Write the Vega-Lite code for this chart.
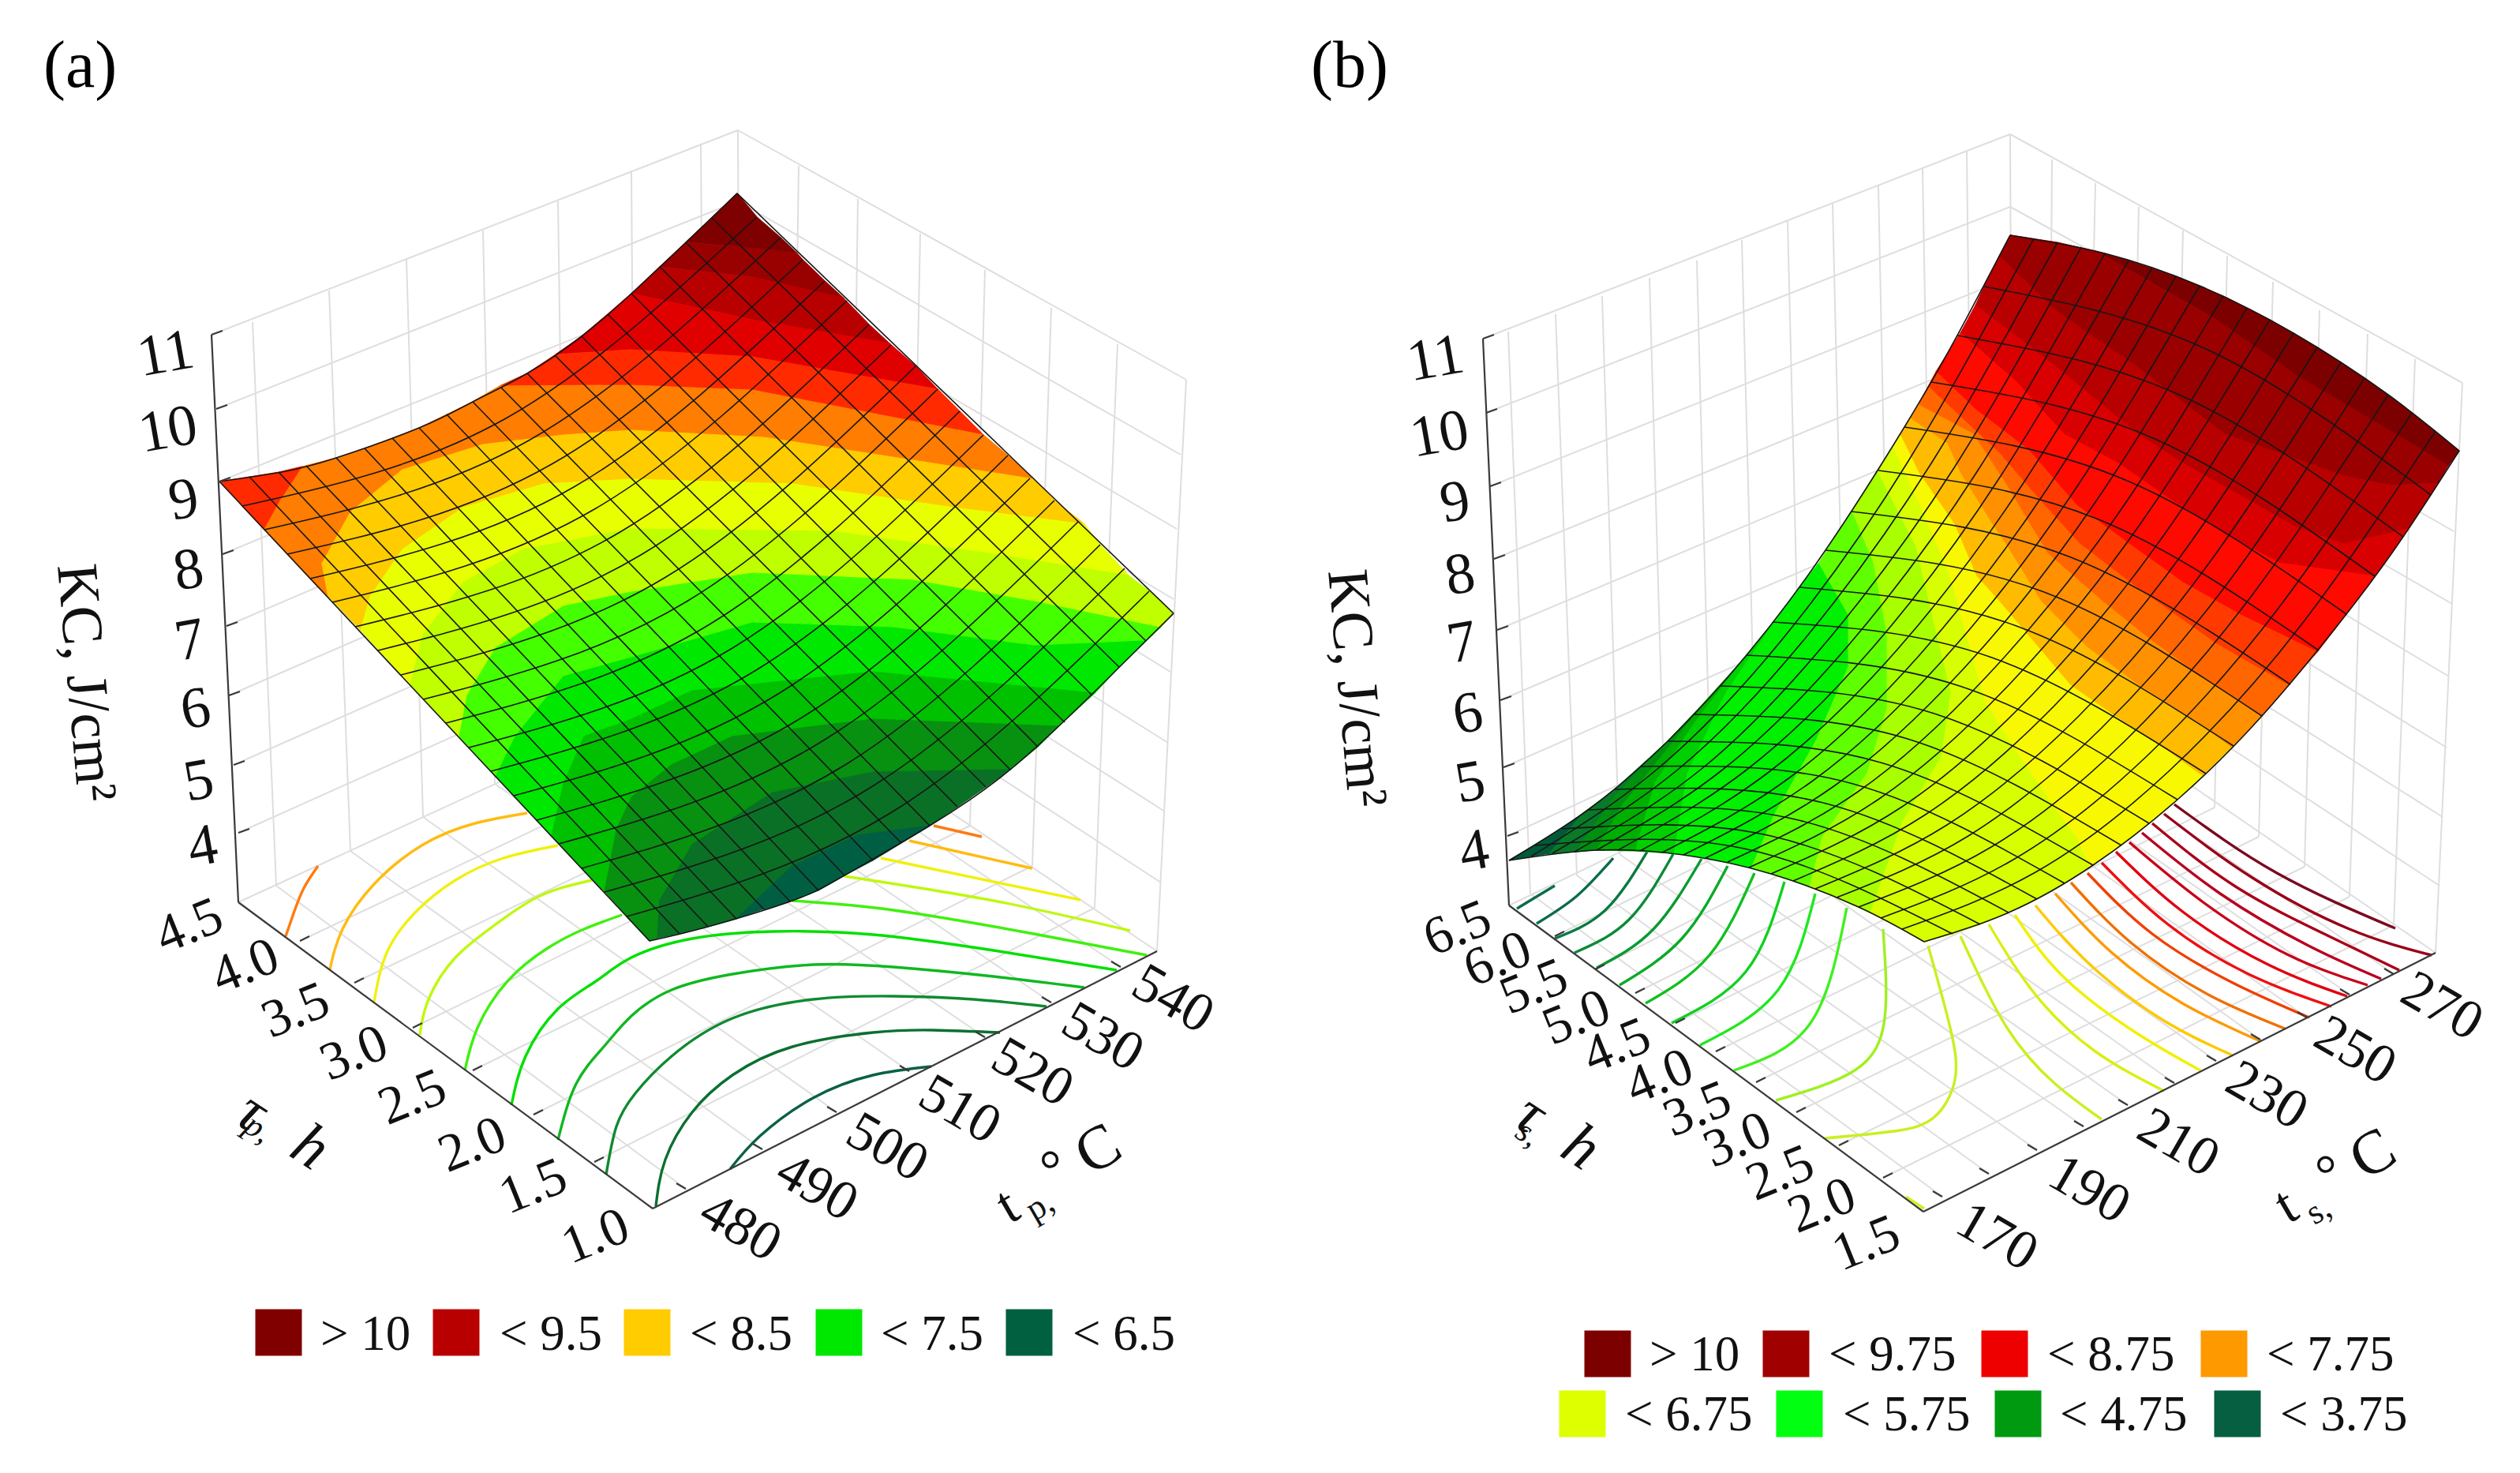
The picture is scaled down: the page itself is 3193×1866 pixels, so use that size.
{"$schema":"https://vega.github.io/schema/vega-lite/v6.json","width":3193,"height":1866,"padding":0,"autosize":{"type":"none"},"background":"#ffffff","config":{"view":{"stroke":null}},
"resolve":{"scale":{"stroke":"independent","fill":"independent"}},
"encoding":{"x":{"field":"x","type":"quantitative","scale":{"domain":[0,3193],"nice":false,"zero":false},"axis":null},"y":{"field":"y","type":"quantitative","scale":{"domain":[1866,0],"nice":false,"zero":false},"axis":null}},
"datasets":{
"walls":[
{"x":320,"y":408,"x2":350,"y2":1122},{"x":417,"y":368,"x2":444,"y2":1078},{"x":515,"y":329,"x2":536,"y2":1035},{"x":612,"y":292,"x2":627,"y2":993},{"x":707,"y":255,"x2":717,"y2":952},{"x":800,"y":217,"x2":805,"y2":912},{"x":888,"y":182,"x2":893,"y2":872},{"x":935,"y":165,"x2":938,"y2":850},
{"x":268,"y":424,"x2":935,"y2":165},{"x":274,"y":518,"x2":935,"y2":255},{"x":278,"y":610,"x2":935,"y2":345},{"x":282,"y":702,"x2":936,"y2":430},{"x":287,"y":793,"x2":936,"y2":515},{"x":290,"y":881,"x2":936,"y2":600},{"x":296,"y":969,"x2":937,"y2":685},{"x":302,"y":1055,"x2":937,"y2":770},{"x":302,"y":1143,"x2":938,"y2":850},
{"x":1012,"y":210,"x2":1002,"y2":897},{"x":1087,"y":252,"x2":1077,"y2":945},{"x":1166,"y":296,"x2":1152,"y2":994},{"x":1248,"y":342,"x2":1229,"y2":1046},{"x":1332,"y":390,"x2":1308,"y2":1097},{"x":1416,"y":436,"x2":1387,"y2":1150},{"x":1503,"y":481,"x2":1466,"y2":1205},
{"x":935,"y":165,"x2":1503,"y2":481},{"x":935,"y":255,"x2":1496,"y2":576},{"x":935,"y":345,"x2":1491,"y2":670},{"x":936,"y":430,"x2":1487,"y2":759},{"x":936,"y":515,"x2":1483,"y2":851},{"x":936,"y":600,"x2":1480,"y2":941},{"x":937,"y":685,"x2":1476,"y2":1028},{"x":937,"y":770,"x2":1471,"y2":1118},{"x":938,"y":850,"x2":1466,"y2":1205},
{"x":350,"y":1122,"x2":869,"y2":1506},{"x":444,"y":1078,"x2":966,"y2":1456},{"x":536,"y":1035,"x2":1060,"y2":1409},{"x":627,"y":993,"x2":1152,"y2":1357},{"x":717,"y":952,"x2":1248,"y2":1314},{"x":805,"y":912,"x2":1332,"y2":1270},{"x":893,"y":872,"x2":1420,"y2":1225},
{"x":380,"y":1192,"x2":1002,"y2":897},{"x":449,"y":1245,"x2":1077,"y2":945},{"x":523,"y":1302,"x2":1152,"y2":994},{"x":599,"y":1356,"x2":1229,"y2":1046},{"x":676,"y":1412,"x2":1308,"y2":1097},{"x":753,"y":1472,"x2":1387,"y2":1150},
{"x":1911,"y":420,"x2":1939,"y2":1132},{"x":1971,"y":398,"x2":1998,"y2":1109},{"x":2030,"y":375,"x2":2052,"y2":1082},{"x":2090,"y":352,"x2":2110,"y2":1054},{"x":2150,"y":330,"x2":2168,"y2":1026},{"x":2207,"y":304,"x2":2225,"y2":998},{"x":2265,"y":280,"x2":2282,"y2":970},{"x":2322,"y":257,"x2":2338,"y2":942},{"x":2380,"y":235,"x2":2394,"y2":915},{"x":2436,"y":214,"x2":2448,"y2":889},{"x":2492,"y":192,"x2":2500,"y2":864},{"x":2547,"y":170,"x2":2550,"y2":840},
{"x":1879,"y":429,"x2":2547,"y2":170},{"x":1883,"y":523,"x2":2547,"y2":262},{"x":1888,"y":616,"x2":2547,"y2":352},{"x":1893,"y":708,"x2":2548,"y2":440},{"x":1897,"y":798,"x2":2548,"y2":525},{"x":1901,"y":887,"x2":2548,"y2":610},{"x":1905,"y":972,"x2":2549,"y2":690},{"x":1910,"y":1059,"x2":2549,"y2":765},{"x":1912,"y":1147,"x2":2550,"y2":840},
{"x":2600,"y":202,"x2":2595,"y2":880},{"x":2655,"y":232,"x2":2640,"y2":912},{"x":2710,"y":262,"x2":2695,"y2":949},{"x":2766,"y":292,"x2":2750,"y2":985},{"x":2822,"y":324,"x2":2806,"y2":1023},{"x":2880,"y":357,"x2":2862,"y2":1060},{"x":2939,"y":393,"x2":2920,"y2":1098},{"x":3000,"y":423,"x2":2977,"y2":1136},{"x":3060,"y":455,"x2":3033,"y2":1172},{"x":3120,"y":485,"x2":3086,"y2":1207},
{"x":2547,"y":170,"x2":3120,"y2":485},{"x":2547,"y":262,"x2":3115,"y2":575},{"x":2547,"y":352,"x2":3109,"y2":673},{"x":2548,"y":440,"x2":3107,"y2":765},{"x":2548,"y":525,"x2":3103,"y2":857},{"x":2548,"y":610,"x2":3100,"y2":947},{"x":2549,"y":690,"x2":3095,"y2":1035},{"x":2549,"y":765,"x2":3091,"y2":1122},{"x":2550,"y":840,"x2":3086,"y2":1207},
{"x":1939,"y":1132,"x2":2461,"y2":1516},{"x":1998,"y":1109,"x2":2520,"y2":1487},{"x":2052,"y":1082,"x2":2581,"y2":1457},{"x":2110,"y":1054,"x2":2640,"y2":1427},{"x":2168,"y":1026,"x2":2696,"y2":1400},{"x":2225,"y":998,"x2":2755,"y2":1372},{"x":2282,"y":970,"x2":2808,"y2":1344},{"x":2338,"y":942,"x2":2864,"y2":1317},{"x":2394,"y":915,"x2":2923,"y2":1289},{"x":2448,"y":889,"x2":2977,"y2":1260},{"x":2500,"y":864,"x2":3033,"y2":1234},
{"x":1970,"y":1186,"x2":2595,"y2":880},{"x":2021,"y":1228,"x2":2640,"y2":912},{"x":2072,"y":1258,"x2":2695,"y2":949},{"x":2123,"y":1296,"x2":2750,"y2":985},{"x":2174,"y":1332,"x2":2806,"y2":1023},{"x":2225,"y":1371,"x2":2862,"y2":1060},{"x":2276,"y":1409,"x2":2920,"y2":1098},{"x":2330,"y":1451,"x2":2977,"y2":1136},{"x":2386,"y":1492,"x2":3033,"y2":1172}
],
"axes":[
{"x":268,"y":424,"x2":302,"y2":1143},{"x":302,"y":1143,"x2":827,"y2":1531},{"x":827,"y":1531,"x2":1466,"y2":1205},
{"x":268,"y":424,"x2":282,"y2":419},{"x":274,"y":518,"x2":288,"y2":513},{"x":278,"y":610,"x2":292,"y2":605},{"x":282,"y":702,"x2":296,"y2":697},{"x":287,"y":793,"x2":301,"y2":788},{"x":290,"y":881,"x2":304,"y2":876},{"x":296,"y":969,"x2":310,"y2":964},{"x":302,"y":1055,"x2":316,"y2":1050},
{"x":380,"y":1192,"x2":392,"y2":1186},{"x":449,"y":1245,"x2":461,"y2":1239},{"x":523,"y":1302,"x2":535,"y2":1296},{"x":599,"y":1356,"x2":611,"y2":1350},{"x":676,"y":1412,"x2":688,"y2":1406},{"x":753,"y":1472,"x2":765,"y2":1466},
{"x":869,"y":1506,"x2":857,"y2":1499},{"x":966,"y":1456,"x2":954,"y2":1449},{"x":1060,"y":1409,"x2":1048,"y2":1402},{"x":1152,"y":1357,"x2":1140,"y2":1350},{"x":1248,"y":1314,"x2":1236,"y2":1307},{"x":1332,"y":1270,"x2":1320,"y2":1263},{"x":1420,"y":1225,"x2":1408,"y2":1218},
{"x":1879,"y":429,"x2":1912,"y2":1147},{"x":1912,"y":1147,"x2":2437,"y2":1535},{"x":2437,"y":1535,"x2":3086,"y2":1207},
{"x":1879,"y":429,"x2":1893,"y2":424},{"x":1883,"y":523,"x2":1897,"y2":518},{"x":1888,"y":616,"x2":1902,"y2":611},{"x":1893,"y":708,"x2":1907,"y2":703},{"x":1897,"y":798,"x2":1911,"y2":793},{"x":1901,"y":887,"x2":1915,"y2":882},{"x":1905,"y":972,"x2":1919,"y2":967},{"x":1910,"y":1059,"x2":1924,"y2":1054},
{"x":1970,"y":1186,"x2":1982,"y2":1180},{"x":2021,"y":1228,"x2":2033,"y2":1222},{"x":2072,"y":1258,"x2":2084,"y2":1252},{"x":2123,"y":1296,"x2":2135,"y2":1290},{"x":2174,"y":1332,"x2":2186,"y2":1326},{"x":2225,"y":1371,"x2":2237,"y2":1365},{"x":2276,"y":1409,"x2":2288,"y2":1403},{"x":2330,"y":1451,"x2":2342,"y2":1445},{"x":2386,"y":1492,"x2":2398,"y2":1486},
{"x":2461,"y":1516,"x2":2449,"y2":1509},{"x":2520,"y":1487,"x2":2508,"y2":1480},{"x":2581,"y":1457,"x2":2569,"y2":1450},{"x":2640,"y":1427,"x2":2628,"y2":1420},{"x":2696,"y":1400,"x2":2684,"y2":1393},{"x":2755,"y":1372,"x2":2743,"y2":1365},{"x":2808,"y":1344,"x2":2796,"y2":1337},{"x":2864,"y":1317,"x2":2852,"y2":1310},{"x":2923,"y":1289,"x2":2911,"y2":1282},{"x":2977,"y":1260,"x2":2965,"y2":1253},{"x":3033,"y":1234,"x2":3021,"y2":1227}
],
"contours":[
{"id":"ca1","x":362,"y":1186},{"id":"ca1","x":372,"y":1157},{"id":"ca1","x":385,"y":1125},{"id":"ca1","x":403,"y":1097},
{"id":"ca1b","x":1183,"y":1046},{"id":"ca1b","x":1244,"y":1060},
{"id":"ca2","x":418,"y":1228},{"id":"ca2","x":434,"y":1177},{"id":"ca2","x":474,"y":1120},{"id":"ca2","x":536,"y":1070},{"id":"ca2","x":602,"y":1043},{"id":"ca2","x":668,"y":1030},
{"id":"ca2b","x":1152,"y":1065},{"id":"ca2b","x":1308,"y":1100},
{"id":"ca3","x":474,"y":1269},{"id":"ca3","x":490,"y":1207},{"id":"ca3","x":526,"y":1156},{"id":"ca3","x":577,"y":1115},{"id":"ca3","x":638,"y":1087},{"id":"ca3","x":707,"y":1071},
{"id":"ca3b","x":1116,"y":1087},{"id":"ca3b","x":1369,"y":1140},
{"id":"ca4","x":532,"y":1311},{"id":"ca4","x":543,"y":1266},{"id":"ca4","x":577,"y":1213},{"id":"ca4","x":628,"y":1171},{"id":"ca4","x":684,"y":1135},{"id":"ca4","x":750,"y":1115},
{"id":"ca4b","x":1070,"y":1110},{"id":"ca4b","x":1259,"y":1141},{"id":"ca4b","x":1432,"y":1179},
{"id":"ca5","x":589,"y":1356},{"id":"ca5","x":605,"y":1302},{"id":"ca5","x":643,"y":1243},{"id":"ca5","x":694,"y":1201},{"id":"ca5","x":740,"y":1177},{"id":"ca5","x":788,"y":1159},
{"id":"ca5b","x":1004,"y":1141},{"id":"ca5b","x":1132,"y":1153},{"id":"ca5b","x":1310,"y":1183},{"id":"ca5b","x":1453,"y":1210},
{"id":"ca6","x":648,"y":1400},{"id":"ca6","x":666,"y":1338},{"id":"ca6","x":707,"y":1278},{"id":"ca6","x":755,"y":1243},{"id":"ca6","x":800,"y":1213},{"id":"ca6","x":877,"y":1189},{"id":"ca6","x":979,"y":1180},{"id":"ca6","x":1106,"y":1184},{"id":"ca6","x":1259,"y":1204},{"id":"ca6","x":1415,"y":1229},
{"id":"ca7","x":707,"y":1444},{"id":"ca7","x":730,"y":1373},{"id":"ca7","x":765,"y":1326},{"id":"ca7","x":800,"y":1287},{"id":"ca7","x":851,"y":1254},{"id":"ca7","x":928,"y":1234},{"id":"ca7","x":1030,"y":1222},{"id":"ca7","x":1132,"y":1225},{"id":"ca7","x":1259,"y":1237},{"id":"ca7","x":1374,"y":1251},
{"id":"ca8","x":768,"y":1488},{"id":"ca8","x":781,"y":1427},{"id":"ca8","x":805,"y":1385},{"id":"ca8","x":851,"y":1338},{"id":"ca8","x":928,"y":1290},{"id":"ca8","x":1030,"y":1266},{"id":"ca8","x":1132,"y":1262},{"id":"ca8","x":1234,"y":1266},{"id":"ca8","x":1326,"y":1275},
{"id":"ca9","x":831,"y":1528},{"id":"ca9","x":843,"y":1469},{"id":"ca9","x":877,"y":1409},{"id":"ca9","x":928,"y":1362},{"id":"ca9","x":1004,"y":1326},{"id":"ca9","x":1106,"y":1308},{"id":"ca9","x":1183,"y":1305},{"id":"ca9","x":1267,"y":1308},
{"id":"ca10","x":925,"y":1481},{"id":"ca10","x":963,"y":1439},{"id":"ca10","x":1030,"y":1391},{"id":"ca10","x":1106,"y":1362},{"id":"ca10","x":1180,"y":1351},
{"id":"g1","x":1922,"y":1151},{"id":"g1","x":1945,"y":1137},{"id":"g1","x":1970,"y":1122},
{"id":"g2","x":1947,"y":1170},{"id":"g2","x":1998,"y":1135},{"id":"g2","x":2044,"y":1087},
{"id":"g3","x":1970,"y":1189},{"id":"g3","x":2034,"y":1153},{"id":"g3","x":2087,"y":1079},
{"id":"g4","x":1995,"y":1207},{"id":"g4","x":2064,"y":1165},{"id":"g4","x":2120,"y":1082},
{"id":"g5","x":2023,"y":1226},{"id":"g5","x":2095,"y":1177},{"id":"g5","x":2156,"y":1088},
{"id":"g6","x":2052,"y":1248},{"id":"g6","x":2131,"y":1189},{"id":"g6","x":2189,"y":1097},
{"id":"g7","x":2085,"y":1271},{"id":"g7","x":2166,"y":1210},{"id":"g7","x":2223,"y":1106},
{"id":"g8","x":2118,"y":1296},{"id":"g8","x":2212,"y":1231},{"id":"g8","x":2261,"y":1117},
{"id":"g9","x":2154,"y":1324},{"id":"g9","x":2253,"y":1254},{"id":"g9","x":2300,"y":1132},
{"id":"g10","x":2197,"y":1356},{"id":"g10","x":2294,"y":1296},{"id":"g10","x":2340,"y":1150},
{"id":"g11","x":2250,"y":1394},{"id":"g11","x":2350,"y":1356},{"id":"g11","x":2388,"y":1290},{"id":"g11","x":2386,"y":1177},
{"id":"g12","x":2312,"y":1442},{"id":"g12","x":2400,"y":1433},{"id":"g12","x":2451,"y":1415},{"id":"g12","x":2477,"y":1368},{"id":"g12","x":2471,"y":1302},{"id":"g12","x":2443,"y":1198},
{"id":"g13","x":2415,"y":1516},{"id":"g13","x":2438,"y":1531},
{"id":"r1","x":2484,"y":1186},{"id":"r1","x":2543,"y":1302},{"id":"r1","x":2604,"y":1373},{"id":"r1","x":2663,"y":1418},
{"id":"r2","x":2520,"y":1171},{"id":"r2","x":2579,"y":1260},{"id":"r2","x":2655,"y":1332},{"id":"r2","x":2742,"y":1382},
{"id":"r3","x":2553,"y":1159},{"id":"r3","x":2614,"y":1237},{"id":"r3","x":2706,"y":1308},{"id":"r3","x":2788,"y":1356},
{"id":"r4","x":2579,"y":1147},{"id":"r4","x":2645,"y":1219},{"id":"r4","x":2737,"y":1290},{"id":"r4","x":2829,"y":1337},
{"id":"r5","x":2604,"y":1132},{"id":"r5","x":2676,"y":1207},{"id":"r5","x":2767,"y":1272},{"id":"r5","x":2864,"y":1319},
{"id":"r6","x":2624,"y":1118},{"id":"r6","x":2701,"y":1195},{"id":"r6","x":2798,"y":1260},{"id":"r6","x":2895,"y":1303},
{"id":"r7","x":2645,"y":1106},{"id":"r7","x":2727,"y":1183},{"id":"r7","x":2829,"y":1245},{"id":"r7","x":2926,"y":1289},
{"id":"r8","x":2663,"y":1093},{"id":"r8","x":2747,"y":1171},{"id":"r8","x":2849,"y":1234},{"id":"r8","x":2954,"y":1275},
{"id":"r9","x":2681,"y":1079},{"id":"r9","x":2767,"y":1156},{"id":"r9","x":2874,"y":1222},{"id":"r9","x":2974,"y":1262},
{"id":"r10","x":2698,"y":1067},{"id":"r10","x":2793,"y":1144},{"id":"r10","x":2900,"y":1210},{"id":"r10","x":3000,"y":1248},
{"id":"r11","x":2714,"y":1055},{"id":"r11","x":2813,"y":1132},{"id":"r11","x":2925,"y":1198},{"id":"r11","x":3017,"y":1240},
{"id":"r12","x":2727,"y":1043},{"id":"r12","x":2834,"y":1124},{"id":"r12","x":2951,"y":1186},{"id":"r12","x":3040,"y":1229},
{"id":"r13","x":2742,"y":1031},{"id":"r13","x":2854,"y":1112},{"id":"r13","x":2977,"y":1177},{"id":"r13","x":3081,"y":1210},
{"id":"r14","x":2755,"y":1019},{"id":"r14","x":2885,"y":1106},{"id":"r14","x":3035,"y":1176}
],
"bands":[
{"id":"a14","x":869,"y":307},{"id":"a14","x":902,"y":276},{"id":"a14","x":934,"y":245},{"id":"a14","x":959,"y":275},{"id":"a14","x":989,"y":301},{"id":"a14","x":1009,"y":320},{"id":"a14","x":940,"y":313},
{"id":"a13","x":836,"y":338},{"id":"a13","x":869,"y":307},{"id":"a13","x":940,"y":313},{"id":"a13","x":1009,"y":320},{"id":"a13","x":1017,"y":329},{"id":"a13","x":1045,"y":356},{"id":"a13","x":1068,"y":377},{"id":"a13","x":953,"y":351},
{"id":"a12","x":800,"y":372},{"id":"a12","x":836,"y":338},{"id":"a12","x":953,"y":351},{"id":"a12","x":1068,"y":377},{"id":"a12","x":1101,"y":411},{"id":"a12","x":1127,"y":435},{"id":"a12","x":953,"y":405},
{"id":"a11","x":704,"y":449},{"id":"a11","x":737,"y":426},{"id":"a11","x":770,"y":398},{"id":"a11","x":800,"y":372},{"id":"a11","x":953,"y":405},{"id":"a11","x":1127,"y":435},{"id":"a11","x":1160,"y":464},{"id":"a11","x":1188,"y":493},{"id":"a11","x":953,"y":452},{"id":"a11","x":800,"y":443},
{"id":"a10","x":633,"y":489},{"id":"a10","x":668,"y":473},{"id":"a10","x":704,"y":449},{"id":"a10","x":800,"y":443},{"id":"a10","x":953,"y":452},{"id":"a10","x":1188,"y":493},{"id":"a10","x":1216,"y":521},{"id":"a10","x":1246,"y":551},{"id":"a10","x":953,"y":494},{"id":"a10","x":800,"y":488},
{"id":"ax","x":278,"y":610},{"id":"ax","x":316,"y":604},{"id":"ax","x":353,"y":598},{"id":"ax","x":383,"y":591},{"id":"ax","x":357,"y":631},{"id":"ax","x":335,"y":671},{"id":"ax","x":307,"y":641},
{"id":"a9","x":383,"y":591},{"id":"a9","x":426,"y":580},{"id":"a9","x":462,"y":568},{"id":"a9","x":497,"y":555},{"id":"a9","x":531,"y":542},{"id":"a9","x":566,"y":525},{"id":"a9","x":599,"y":509},{"id":"a9","x":633,"y":489},{"id":"a9","x":800,"y":488},{"id":"a9","x":953,"y":494},{"id":"a9","x":1246,"y":551},{"id":"a9","x":1277,"y":577},{"id":"a9","x":1310,"y":607},{"id":"a9","x":1157,"y":583},{"id":"a9","x":968,"y":554},{"id":"a9","x":800,"y":545},{"id":"a9","x":714,"y":551},{"id":"a9","x":612,"y":563},{"id":"a9","x":510,"y":595},{"id":"a9","x":444,"y":649},{"id":"a9","x":408,"y":714},{"id":"a9","x":416,"y":756},{"id":"a9","x":393,"y":733},{"id":"a9","x":364,"y":702},{"id":"a9","x":335,"y":671},{"id":"a9","x":357,"y":631},
{"id":"a8","x":416,"y":756},{"id":"a8","x":408,"y":714},{"id":"a8","x":444,"y":649},{"id":"a8","x":510,"y":595},{"id":"a8","x":612,"y":563},{"id":"a8","x":714,"y":551},{"id":"a8","x":800,"y":545},{"id":"a8","x":968,"y":554},{"id":"a8","x":1157,"y":583},{"id":"a8","x":1310,"y":607},{"id":"a8","x":1336,"y":634},{"id":"a8","x":1374,"y":664},{"id":"a8","x":1208,"y":643},{"id":"a8","x":1004,"y":613},{"id":"a8","x":800,"y":607},{"id":"a8","x":689,"y":613},{"id":"a8","x":587,"y":643},{"id":"a8","x":510,"y":696},{"id":"a8","x":469,"y":756},{"id":"a8","x":457,"y":799},
{"id":"a7","x":457,"y":799},{"id":"a7","x":469,"y":756},{"id":"a7","x":510,"y":696},{"id":"a7","x":587,"y":643},{"id":"a7","x":689,"y":613},{"id":"a7","x":800,"y":607},{"id":"a7","x":1004,"y":613},{"id":"a7","x":1208,"y":643},{"id":"a7","x":1374,"y":664},{"id":"a7","x":1394,"y":690},{"id":"a7","x":1430,"y":729},{"id":"a7","x":1259,"y":702},{"id":"a7","x":1055,"y":673},{"id":"a7","x":800,"y":670},{"id":"a7","x":663,"y":696},{"id":"a7","x":587,"y":738},{"id":"a7","x":536,"y":804},{"id":"a7","x":520,"y":868},
{"id":"a6","x":520,"y":868},{"id":"a6","x":536,"y":804},{"id":"a6","x":587,"y":738},{"id":"a6","x":663,"y":696},{"id":"a6","x":800,"y":670},{"id":"a6","x":1055,"y":673},{"id":"a6","x":1259,"y":702},{"id":"a6","x":1430,"y":729},{"id":"a6","x":1456,"y":749},{"id":"a6","x":1487,"y":777},{"id":"a6","x":1470,"y":795},{"id":"a6","x":1310,"y":762},{"id":"a6","x":1157,"y":735},{"id":"a6","x":953,"y":726},{"id":"a6","x":800,"y":750},{"id":"a6","x":714,"y":768},{"id":"a6","x":628,"y":821},{"id":"a6","x":592,"y":881},{"id":"a6","x":582,"y":934},
{"id":"a5","x":582,"y":934},{"id":"a5","x":592,"y":881},{"id":"a5","x":628,"y":821},{"id":"a5","x":714,"y":768},{"id":"a5","x":800,"y":750},{"id":"a5","x":953,"y":726},{"id":"a5","x":1157,"y":735},{"id":"a5","x":1310,"y":762},{"id":"a5","x":1470,"y":795},{"id":"a5","x":1452,"y":812},{"id":"a5","x":1310,"y":818},{"id":"a5","x":1132,"y":795},{"id":"a5","x":953,"y":789},{"id":"a5","x":800,"y":833},{"id":"a5","x":714,"y":857},{"id":"a5","x":653,"y":933},{"id":"a5","x":628,"y":984},
{"id":"a4","x":628,"y":984},{"id":"a4","x":653,"y":933},{"id":"a4","x":714,"y":857},{"id":"a4","x":800,"y":833},{"id":"a4","x":953,"y":789},{"id":"a4","x":1132,"y":795},{"id":"a4","x":1310,"y":818},{"id":"a4","x":1452,"y":812},{"id":"a4","x":1418,"y":845},{"id":"a4","x":1387,"y":878},{"id":"a4","x":1106,"y":851},{"id":"a4","x":877,"y":875},{"id":"a4","x":800,"y":911},{"id":"a4","x":740,"y":933},{"id":"a4","x":714,"y":993},{"id":"a4","x":699,"y":1059},{"id":"a4","x":651,"y":1008},
{"id":"a3","x":699,"y":1059},{"id":"a3","x":714,"y":993},{"id":"a3","x":740,"y":933},{"id":"a3","x":800,"y":911},{"id":"a3","x":877,"y":875},{"id":"a3","x":1106,"y":851},{"id":"a3","x":1387,"y":878},{"id":"a3","x":1341,"y":920},{"id":"a3","x":1106,"y":911},{"id":"a3","x":928,"y":933},{"id":"a3","x":851,"y":969},{"id":"a3","x":800,"y":1010},{"id":"a3","x":781,"y":1052},{"id":"a3","x":766,"y":1130},
{"id":"a2","x":766,"y":1130},{"id":"a2","x":781,"y":1052},{"id":"a2","x":800,"y":1010},{"id":"a2","x":851,"y":969},{"id":"a2","x":928,"y":933},{"id":"a2","x":1106,"y":911},{"id":"a2","x":1341,"y":920},{"id":"a2","x":1315,"y":946},{"id":"a2","x":1280,"y":975},{"id":"a2","x":1106,"y":978},{"id":"a2","x":979,"y":1004},{"id":"a2","x":877,"y":1070},{"id":"a2","x":836,"y":1141},{"id":"a2","x":833,"y":1189},{"id":"a2","x":823,"y":1192},{"id":"a2","x":794,"y":1161},
{"id":"a1","x":833,"y":1189},{"id":"a1","x":836,"y":1141},{"id":"a1","x":877,"y":1070},{"id":"a1","x":979,"y":1004},{"id":"a1","x":1106,"y":978},{"id":"a1","x":1280,"y":975},{"id":"a1","x":1249,"y":997},{"id":"a1","x":1213,"y":1022},{"id":"a1","x":1178,"y":1046},{"id":"a1","x":1086,"y":1058},{"id":"a1","x":1004,"y":1097},{"id":"a1","x":933,"y":1164},{"id":"a1","x":897,"y":1174},{"id":"a1","x":861,"y":1183},
{"id":"a0","x":933,"y":1164},{"id":"a0","x":1004,"y":1097},{"id":"a0","x":1086,"y":1058},{"id":"a0","x":1178,"y":1046},{"id":"a0","x":1142,"y":1068},{"id":"a0","x":1106,"y":1090},{"id":"a0","x":1070,"y":1109},{"id":"a0","x":1037,"y":1128},{"id":"a0","x":1001,"y":1142},{"id":"a0","x":968,"y":1152},
{"id":"b18","x":2655,"y":318},{"id":"b18","x":2697,"y":330},{"id":"b18","x":2757,"y":350},{"id":"b18","x":2817,"y":375},{"id":"b18","x":2876,"y":405},{"id":"b18","x":2936,"y":440},{"id":"b18","x":2996,"y":479},{"id":"b18","x":3056,"y":523},{"id":"b18","x":3116,"y":571},{"id":"b18","x":3102,"y":590},{"id":"b18","x":3012,"y":536},{"id":"b18","x":2910,"y":476},{"id":"b18","x":2808,"y":405},
{"id":"b17","x":2533,"y":325},{"id":"b17","x":2547,"y":298},{"id":"b17","x":2607,"y":307},{"id":"b17","x":2655,"y":318},{"id":"b17","x":2808,"y":405},{"id":"b17","x":2910,"y":476},{"id":"b17","x":3012,"y":536},{"id":"b17","x":3102,"y":590},{"id":"b17","x":3089,"y":612},{"id":"b17","x":3031,"y":615},{"id":"b17","x":2970,"y":603},{"id":"b17","x":2888,"y":574},{"id":"b17","x":2819,"y":550},{"id":"b17","x":2706,"y":464},{"id":"b17","x":2604,"y":393},
{"id":"b16","x":2503,"y":387},{"id":"b16","x":2514,"y":363},{"id":"b16","x":2533,"y":325},{"id":"b16","x":2604,"y":393},{"id":"b16","x":2706,"y":464},{"id":"b16","x":2819,"y":550},{"id":"b16","x":2888,"y":574},{"id":"b16","x":2970,"y":603},{"id":"b16","x":3031,"y":615},{"id":"b16","x":3089,"y":612},{"id":"b16","x":3080,"y":627},{"id":"b16","x":3051,"y":670},{"id":"b16","x":2970,"y":689},{"id":"b16","x":2909,"y":668},{"id":"b16","x":2839,"y":628},{"id":"b16","x":2766,"y":587},{"id":"b16","x":2709,"y":550},{"id":"b16","x":2604,"y":464},
{"id":"b15","x":2484,"y":422},{"id":"b15","x":2503,"y":387},{"id":"b15","x":2604,"y":464},{"id":"b15","x":2709,"y":550},{"id":"b15","x":2766,"y":587},{"id":"b15","x":2839,"y":628},{"id":"b15","x":2909,"y":668},{"id":"b15","x":2970,"y":689},{"id":"b15","x":3051,"y":670},{"id":"b15","x":3009,"y":730},{"id":"b15","x":2888,"y":713},{"id":"b15","x":2819,"y":677},{"id":"b15","x":2749,"y":632},{"id":"b15","x":2684,"y":587},{"id":"b15","x":2615,"y":550},{"id":"b15","x":2553,"y":482},
{"id":"b14","x":2453,"y":471},{"id":"b14","x":2484,"y":422},{"id":"b14","x":2553,"y":482},{"id":"b14","x":2615,"y":550},{"id":"b14","x":2684,"y":587},{"id":"b14","x":2749,"y":632},{"id":"b14","x":2819,"y":677},{"id":"b14","x":2888,"y":713},{"id":"b14","x":3009,"y":730},{"id":"b14","x":2973,"y":778},{"id":"b14","x":2936,"y":826},{"id":"b14","x":2839,"y":779},{"id":"b14","x":2766,"y":738},{"id":"b14","x":2692,"y":685},{"id":"b14","x":2631,"y":640},{"id":"b14","x":2570,"y":570},{"id":"b14","x":2502,"y":518},
{"id":"b13","x":2443,"y":490},{"id":"b13","x":2453,"y":471},{"id":"b13","x":2502,"y":518},{"id":"b13","x":2570,"y":570},{"id":"b13","x":2631,"y":640},{"id":"b13","x":2692,"y":685},{"id":"b13","x":2766,"y":738},{"id":"b13","x":2839,"y":779},{"id":"b13","x":2936,"y":826},{"id":"b13","x":2899,"y":868},{"id":"b13","x":2807,"y":815},{"id":"b13","x":2704,"y":742},{"id":"b13","x":2635,"y":689},{"id":"b13","x":2590,"y":640},{"id":"b13","x":2533,"y":574},
{"id":"b12","x":2431,"y":513},{"id":"b12","x":2443,"y":490},{"id":"b12","x":2533,"y":574},{"id":"b12","x":2590,"y":640},{"id":"b12","x":2635,"y":689},{"id":"b12","x":2704,"y":742},{"id":"b12","x":2807,"y":815},{"id":"b12","x":2899,"y":868},{"id":"b12","x":2866,"y":907},{"id":"b12","x":2798,"y":864},{"id":"b12","x":2725,"y":811},{"id":"b12","x":2664,"y":762},{"id":"b12","x":2594,"y":701},{"id":"b12","x":2540,"y":611},{"id":"b12","x":2500,"y":550},
{"id":"b11","x":2420,"y":530},{"id":"b11","x":2431,"y":513},{"id":"b11","x":2500,"y":550},{"id":"b11","x":2540,"y":611},{"id":"b11","x":2594,"y":701},{"id":"b11","x":2664,"y":762},{"id":"b11","x":2725,"y":811},{"id":"b11","x":2798,"y":864},{"id":"b11","x":2866,"y":907},{"id":"b11","x":2827,"y":947},{"id":"b11","x":2774,"y":909},{"id":"b11","x":2709,"y":868},{"id":"b11","x":2643,"y":819},{"id":"b11","x":2586,"y":762},{"id":"b11","x":2541,"y":689},{"id":"b11","x":2524,"y":664},{"id":"b11","x":2484,"y":600},{"id":"b11","x":2467,"y":562},
{"id":"b10","x":2408,"y":552},{"id":"b10","x":2420,"y":530},{"id":"b10","x":2467,"y":562},{"id":"b10","x":2484,"y":600},{"id":"b10","x":2524,"y":664},{"id":"b10","x":2541,"y":689},{"id":"b10","x":2586,"y":762},{"id":"b10","x":2643,"y":819},{"id":"b10","x":2709,"y":868},{"id":"b10","x":2774,"y":909},{"id":"b10","x":2827,"y":947},{"id":"b10","x":2790,"y":983},{"id":"b10","x":2733,"y":942},{"id":"b10","x":2676,"y":905},{"id":"b10","x":2623,"y":868},{"id":"b10","x":2578,"y":815},{"id":"b10","x":2533,"y":762},{"id":"b10","x":2504,"y":730},{"id":"b10","x":2476,"y":664},{"id":"b10","x":2431,"y":599},
{"id":"b9","x":2398,"y":566},{"id":"b9","x":2408,"y":552},{"id":"b9","x":2431,"y":599},{"id":"b9","x":2476,"y":664},{"id":"b9","x":2504,"y":730},{"id":"b9","x":2533,"y":762},{"id":"b9","x":2578,"y":815},{"id":"b9","x":2623,"y":868},{"id":"b9","x":2676,"y":905},{"id":"b9","x":2733,"y":942},{"id":"b9","x":2790,"y":983},{"id":"b9","x":2759,"y":1013},{"id":"b9","x":2723,"y":1043},{"id":"b9","x":2688,"y":1071},{"id":"b9","x":2647,"y":1099},{"id":"b9","x":2631,"y":1062},{"id":"b9","x":2602,"y":1022},{"id":"b9","x":2553,"y":950},{"id":"b9","x":2515,"y":890},{"id":"b9","x":2495,"y":820},{"id":"b9","x":2470,"y":730},{"id":"b9","x":2432,"y":640},
{"id":"b8","x":2378,"y":597},{"id":"b8","x":2398,"y":566},{"id":"b8","x":2432,"y":640},{"id":"b8","x":2470,"y":730},{"id":"b8","x":2495,"y":820},{"id":"b8","x":2515,"y":890},{"id":"b8","x":2553,"y":950},{"id":"b8","x":2602,"y":1022},{"id":"b8","x":2631,"y":1062},{"id":"b8","x":2647,"y":1099},{"id":"b8","x":2616,"y":1119},{"id":"b8","x":2581,"y":1139},{"id":"b8","x":2545,"y":1156},{"id":"b8","x":2509,"y":1171},{"id":"b8","x":2474,"y":1183},{"id":"b8","x":2438,"y":1193},{"id":"b8","x":2410,"y":1177},{"id":"b8","x":2369,"y":1156},{"id":"b8","x":2410,"y":1040},{"id":"b8","x":2459,"y":958},{"id":"b8","x":2471,"y":877},{"id":"b8","x":2451,"y":795},{"id":"b8","x":2427,"y":693},
{"id":"b7","x":2346,"y":648},{"id":"b7","x":2378,"y":597},{"id":"b7","x":2427,"y":693},{"id":"b7","x":2451,"y":795},{"id":"b7","x":2471,"y":877},{"id":"b7","x":2459,"y":958},{"id":"b7","x":2410,"y":1040},{"id":"b7","x":2369,"y":1156},{"id":"b7","x":2327,"y":1137},{"id":"b7","x":2292,"y":1123},{"id":"b7","x":2308,"y":1060},{"id":"b7","x":2365,"y":979},{"id":"b7","x":2390,"y":897},{"id":"b7","x":2390,"y":803},{"id":"b7","x":2373,"y":713},
{"id":"b6","x":2304,"y":714},{"id":"b6","x":2346,"y":648},{"id":"b6","x":2373,"y":713},{"id":"b6","x":2390,"y":803},{"id":"b6","x":2390,"y":897},{"id":"b6","x":2365,"y":979},{"id":"b6","x":2308,"y":1060},{"id":"b6","x":2292,"y":1123},{"id":"b6","x":2244,"y":1107},{"id":"b6","x":2218,"y":1099},{"id":"b6","x":2247,"y":1032},{"id":"b6","x":2300,"y":938},{"id":"b6","x":2341,"y":844},{"id":"b6","x":2341,"y":779},
{"id":"b5","x":2247,"y":788},{"id":"b5","x":2280,"y":744},{"id":"b5","x":2304,"y":714},{"id":"b5","x":2341,"y":779},{"id":"b5","x":2341,"y":844},{"id":"b5","x":2300,"y":938},{"id":"b5","x":2247,"y":1032},{"id":"b5","x":2218,"y":1099},{"id":"b5","x":2161,"y":1087},{"id":"b5","x":2120,"y":1081},{"id":"b5","x":2137,"y":979},{"id":"b5","x":2186,"y":877},
{"id":"b4","x":2202,"y":843},{"id":"b4","x":2247,"y":788},{"id":"b4","x":2186,"y":877},{"id":"b4","x":2137,"y":979},{"id":"b4","x":2120,"y":1081},{"id":"b4","x":2071,"y":1078},{"id":"b4","x":2096,"y":991},{"id":"b4","x":2145,"y":917},
{"id":"b3","x":2153,"y":897},{"id":"b3","x":2202,"y":843},{"id":"b3","x":2145,"y":917},{"id":"b3","x":2096,"y":991},{"id":"b3","x":2071,"y":1078},{"id":"b3","x":2022,"y":1077},{"id":"b3","x":2055,"y":1019},{"id":"b3","x":2104,"y":958},
{"id":"b2","x":2088,"y":962},{"id":"b2","x":2113,"y":939},{"id":"b2","x":2153,"y":897},{"id":"b2","x":2104,"y":958},{"id":"b2","x":2055,"y":1019},{"id":"b2","x":2022,"y":1077},{"id":"b2","x":1995,"y":1079},{"id":"b2","x":2043,"y":1011},
{"id":"b1","x":2002,"y":1033},{"id":"b1","x":2046,"y":1000},{"id":"b1","x":2088,"y":962},{"id":"b1","x":2043,"y":1011},{"id":"b1","x":1995,"y":1079},{"id":"b1","x":1961,"y":1082},
{"id":"b0","x":1912,"y":1090},{"id":"b0","x":1945,"y":1071},{"id":"b0","x":1979,"y":1050},{"id":"b0","x":2002,"y":1033},{"id":"b0","x":1961,"y":1082}
],
"meshStraight":[
{"x":316,"y":604,"x2":861,"y2":1183},{"x":353,"y":598,"x2":897,"y2":1174},{"x":388,"y":590,"x2":933,"y2":1164},{"x":426,"y":580,"x2":968,"y2":1152},{"x":462,"y":568,"x2":1001,"y2":1142},{"x":497,"y":555,"x2":1037,"y2":1128},{"x":531,"y":542,"x2":1070,"y2":1109},{"x":566,"y":525,"x2":1106,"y2":1090},{"x":599,"y":509,"x2":1142,"y2":1068},{"x":635,"y":491,"x2":1178,"y2":1046},{"x":668,"y":473,"x2":1213,"y2":1022},{"x":703,"y":450,"x2":1249,"y2":997},{"x":737,"y":426,"x2":1280,"y2":975},{"x":770,"y":398,"x2":1315,"y2":946},{"x":800,"y":372,"x2":1349,"y2":915},{"x":836,"y":338,"x2":1383,"y2":880},{"x":869,"y":307,"x2":1418,"y2":845},{"x":902,"y":276,"x2":1452,"y2":812},
{"x":278,"y":610,"x2":823,"y2":1192},{"x":934,"y":245,"x2":1487,"y2":777}
],
"mesh":[
{"id":"m1","x":307,"y":641},{"id":"m1","x":641,"y":530},{"id":"m1","x":959,"y":275},
{"id":"m2","x":335,"y":671},{"id":"m2","x":670,"y":558},{"id":"m2","x":989,"y":301},
{"id":"m3","x":364,"y":702},{"id":"m3","x":699,"y":588},{"id":"m3","x":1017,"y":329},
{"id":"m4","x":393,"y":733},{"id":"m4","x":727,"y":617},{"id":"m4","x":1045,"y":356},
{"id":"m5","x":421,"y":763},{"id":"m5","x":755,"y":644},{"id":"m5","x":1073,"y":381},
{"id":"m6","x":450,"y":794},{"id":"m6","x":784,"y":675},{"id":"m6","x":1101,"y":411},
{"id":"m7","x":479,"y":824},{"id":"m7","x":812,"y":703},{"id":"m7","x":1129,"y":437},
{"id":"m8","x":508,"y":855},{"id":"m8","x":842,"y":732},{"id":"m8","x":1160,"y":464},
{"id":"m9","x":536,"y":886},{"id":"m9","x":870,"y":762},{"id":"m9","x":1188,"y":493},
{"id":"m10","x":565,"y":916},{"id":"m10","x":899,"y":791},{"id":"m10","x":1216,"y":521},
{"id":"m11","x":594,"y":947},{"id":"m11","x":928,"y":821},{"id":"m11","x":1246,"y":551},
{"id":"m12","x":622,"y":977},{"id":"m12","x":958,"y":849},{"id":"m12","x":1277,"y":577},
{"id":"m13","x":651,"y":1008},{"id":"m13","x":986,"y":879},{"id":"m13","x":1305,"y":606},
{"id":"m14","x":680,"y":1039},{"id":"m14","x":1016,"y":909},{"id":"m14","x":1336,"y":634},
{"id":"m15","x":708,"y":1069},{"id":"m15","x":1045,"y":937},{"id":"m15","x":1366,"y":661},
{"id":"m16","x":737,"y":1100},{"id":"m16","x":1074,"y":967},{"id":"m16","x":1394,"y":690},
{"id":"m17","x":766,"y":1130},{"id":"m17","x":1104,"y":997},{"id":"m17","x":1425,"y":720},
{"id":"m18","x":794,"y":1161},{"id":"m18","x":1133,"y":1027},{"id":"m18","x":1456,"y":749},
{"id":"oa1","x":278,"y":610},{"id":"oa1","x":357,"y":598},{"id":"oa1","x":426,"y":580},{"id":"oa1","x":531,"y":542},{"id":"oa1","x":599,"y":509},{"id":"oa1","x":668,"y":473},{"id":"oa1","x":737,"y":426},{"id":"oa1","x":800,"y":372},{"id":"oa1","x":866,"y":310},{"id":"oa1","x":934,"y":245},
{"id":"oa2","x":823,"y":1192},{"id":"oa2","x":897,"y":1174},{"id":"oa2","x":1004,"y":1141},{"id":"oa2","x":1070,"y":1109},{"id":"oa2","x":1178,"y":1046},{"id":"oa2","x":1280,"y":975},{"id":"oa2","x":1382,"y":881},{"id":"oa2","x":1487,"y":777},
{"id":"k1","x":1945,"y":1071},{"id":"k1","x":2210,"y":1075},{"id":"k1","x":2474,"y":1183},
{"id":"k2","x":1979,"y":1050},{"id":"k2","x":2244,"y":1059},{"id":"k2","x":2509,"y":1171},
{"id":"k3","x":2012,"y":1026},{"id":"k3","x":2279,"y":1039},{"id":"k3","x":2545,"y":1156},
{"id":"k4","x":2046,"y":1000},{"id":"k4","x":2314,"y":1018},{"id":"k4","x":2581,"y":1139},
{"id":"k5","x":2079,"y":971},{"id":"k5","x":2348,"y":993},{"id":"k5","x":2616,"y":1119},
{"id":"k6","x":2113,"y":939},{"id":"k6","x":2383,"y":966},{"id":"k6","x":2652,"y":1096},
{"id":"k7","x":2146,"y":905},{"id":"k7","x":2417,"y":936},{"id":"k7","x":2688,"y":1071},
{"id":"k8","x":2179,"y":869},{"id":"k8","x":2451,"y":904},{"id":"k8","x":2723,"y":1043},
{"id":"k9","x":2213,"y":830},{"id":"k9","x":2486,"y":870},{"id":"k9","x":2759,"y":1013},
{"id":"k10","x":2246,"y":788},{"id":"k10","x":2521,"y":832},{"id":"k10","x":2795,"y":980},
{"id":"k11","x":2280,"y":744},{"id":"k11","x":2555,"y":793},{"id":"k11","x":2830,"y":945},
{"id":"k12","x":2313,"y":697},{"id":"k12","x":2590,"y":750},{"id":"k12","x":2866,"y":907},
{"id":"k13","x":2346,"y":648},{"id":"k13","x":2624,"y":706},{"id":"k13","x":2902,"y":867},
{"id":"k14","x":2380,"y":596},{"id":"k14","x":2659,"y":658},{"id":"k14","x":2938,"y":824},
{"id":"k15","x":2413,"y":541},{"id":"k15","x":2693,"y":608},{"id":"k15","x":2973,"y":778},
{"id":"k16","x":2447,"y":484},{"id":"k16","x":2728,"y":555},{"id":"k16","x":3009,"y":730},
{"id":"k17","x":2480,"y":425},{"id":"k17","x":2763,"y":501},{"id":"k17","x":3045,"y":680},
{"id":"k18","x":2514,"y":363},{"id":"k18","x":2797,"y":443},{"id":"k18","x":3080,"y":627},
{"id":"j1","x":1940,"y":1085},{"id":"j1","x":2099,"y":975},{"id":"j1","x":2259,"y":809},{"id":"j1","x":2418,"y":584},{"id":"j1","x":2577,"y":302},
{"id":"j2","x":1967,"y":1081},{"id":"j2","x":2127,"y":974},{"id":"j2","x":2287,"y":809},{"id":"j2","x":2447,"y":587},{"id":"j2","x":2607,"y":307},
{"id":"j3","x":1995,"y":1079},{"id":"j3","x":2156,"y":974},{"id":"j3","x":2316,"y":811},{"id":"j3","x":2477,"y":591},{"id":"j3","x":2637,"y":313},
{"id":"j4","x":2023,"y":1077},{"id":"j4","x":2184,"y":974},{"id":"j4","x":2345,"y":814},{"id":"j4","x":2506,"y":596},{"id":"j4","x":2667,"y":321},
{"id":"j5","x":2050,"y":1077},{"id":"j5","x":2212,"y":976},{"id":"j5","x":2374,"y":819},{"id":"j5","x":2535,"y":603},{"id":"j5","x":2697,"y":330},
{"id":"j6","x":2078,"y":1078},{"id":"j6","x":2240,"y":979},{"id":"j6","x":2403,"y":824},{"id":"j6","x":2565,"y":610},{"id":"j6","x":2727,"y":339},
{"id":"j7","x":2106,"y":1080},{"id":"j7","x":2269,"y":984},{"id":"j7","x":2432,"y":830},{"id":"j7","x":2594,"y":619},{"id":"j7","x":2757,"y":350},
{"id":"j8","x":2133,"y":1083},{"id":"j8","x":2297,"y":989},{"id":"j8","x":2460,"y":838},{"id":"j8","x":2624,"y":628},{"id":"j8","x":2787,"y":362},
{"id":"j9","x":2161,"y":1087},{"id":"j9","x":2325,"y":995},{"id":"j9","x":2489,"y":846},{"id":"j9","x":2653,"y":639},{"id":"j9","x":2817,"y":375},
{"id":"j10","x":2189,"y":1092},{"id":"j10","x":2354,"y":1003},{"id":"j10","x":2518,"y":856},{"id":"j10","x":2683,"y":652},{"id":"j10","x":2847,"y":390},
{"id":"j11","x":2216,"y":1099},{"id":"j11","x":2381,"y":1012},{"id":"j11","x":2546,"y":867},{"id":"j11","x":2711,"y":665},{"id":"j11","x":2876,"y":405},
{"id":"j12","x":2244,"y":1107},{"id":"j12","x":2410,"y":1022},{"id":"j12","x":2575,"y":880},{"id":"j12","x":2741,"y":679},{"id":"j12","x":2906,"y":422},
{"id":"j13","x":2272,"y":1116},{"id":"j13","x":2438,"y":1033},{"id":"j13","x":2604,"y":893},{"id":"j13","x":2770,"y":695},{"id":"j13","x":2936,"y":440},
{"id":"j14","x":2300,"y":1126},{"id":"j14","x":2467,"y":1045},{"id":"j14","x":2633,"y":908},{"id":"j14","x":2800,"y":712},{"id":"j14","x":2966,"y":459},
{"id":"j15","x":2327,"y":1137},{"id":"j15","x":2494,"y":1059},{"id":"j15","x":2662,"y":923},{"id":"j15","x":2829,"y":730},{"id":"j15","x":2996,"y":479},
{"id":"j16","x":2355,"y":1149},{"id":"j16","x":2523,"y":1073},{"id":"j16","x":2691,"y":940},{"id":"j16","x":2858,"y":748},{"id":"j16","x":3026,"y":500},
{"id":"j17","x":2383,"y":1163},{"id":"j17","x":2551,"y":1089},{"id":"j17","x":2720,"y":958},{"id":"j17","x":2888,"y":769},{"id":"j17","x":3056,"y":523},
{"id":"j18","x":2410,"y":1177},{"id":"j18","x":2579,"y":1105},{"id":"j18","x":2748,"y":977},{"id":"j18","x":2917,"y":790},{"id":"j18","x":3086,"y":546},
{"id":"ob1","x":1912,"y":1090},{"id":"ob1","x":2012,"y":1026},{"id":"ob1","x":2113,"y":939},{"id":"ob1","x":2213,"y":830},{"id":"ob1","x":2313,"y":697},{"id":"ob1","x":2413,"y":541},{"id":"ob1","x":2480,"y":425},{"id":"ob1","x":2547,"y":298},
{"id":"ob2","x":2438,"y":1193},{"id":"ob2","x":2545,"y":1156},{"id":"ob2","x":2652,"y":1096},{"id":"ob2","x":2759,"y":1013},{"id":"ob2","x":2866,"y":907},{"id":"ob2","x":2973,"y":778},{"id":"ob2","x":3045,"y":680},{"id":"ob2","x":3116,"y":571},
{"id":"ob3","x":1912,"y":1090},{"id":"ob3","x":2023,"y":1077},{"id":"ob3","x":2133,"y":1083},{"id":"ob3","x":2244,"y":1107},{"id":"ob3","x":2355,"y":1149},{"id":"ob3","x":2438,"y":1193},
{"id":"ob4","x":2547,"y":298},{"id":"ob4","x":2667,"y":321},{"id":"ob4","x":2787,"y":362},{"id":"ob4","x":2906,"y":422},{"id":"ob4","x":3026,"y":500},{"id":"ob4","x":3116,"y":571}
]
},
"layer":[
{"data":{"name":"walls"},"mark":{"type":"rule","stroke":"#dedede","strokeWidth":2},"encoding":{"x2":{"field":"x2"},"y2":{"field":"y2"}}},
{"data":{"name":"contours"},"transform":[{"window":[{"op":"row_number","as":"o"}]}],"mark":{"type":"line","interpolate":"natural","strokeWidth":3.4},"encoding":{"order":{"field":"o","type":"quantitative"},"stroke":{"field":"id","type":"nominal","legend":null,"scale":{"domain":["ca1","ca1b","ca2","ca2b","ca3","ca3b","ca4","ca4b","ca5","ca5b","ca6","ca7","ca8","ca9","ca10","g1","g2","g3","g4","g5","g6","g7","g8","g9","g10","g11","g12","g13","r1","r2","r3","r4","r5","r6","r7","r8","r9","r10","r11","r12","r13","r14"],"range":["#ff7a10","#ff7a10","#ffbb10","#ffbb10","#f0f010","#f0f010","#c0f810","#c0f810","#40f010","#40f010","#00e000","#10b820","#108a30","#0a7030","#0a6048","#0b6b4a","#0b6b4a","#0a7a40","#0a8a38","#0a9a30","#0aaa28","#10c020","#10d020","#20e820","#40f020","#a0f020","#c8f020","#d0f020","#c8f020","#d8f010","#f0f000","#ffc800","#ff9900","#f07000","#f04000","#ee1010","#e00010","#c80018","#b80020","#a80018","#980018","#7a0a20"]}}}},
{"data":{"name":"bands"},"transform":[{"window":[{"op":"row_number","as":"o"}]}],"mark":{"type":"line","strokeWidth":1.2},"encoding":{"order":{"field":"o","type":"quantitative"},"fill":{"field":"id","type":"nominal","legend":null,"scale":{"domain":["a14","a13","a12","a11","a10","ax","a9","a8","a7","a6","a5","a4","a3","a2","a1","a0","b18","b17","b16","b15","b14","b13","b12","b11","b10","b9","b8","b7","b6","b5","b4","b3","b2","b1","b0"],"range":["#7f0000","#990000","#b80000","#e00000","#ff2a00","#ff2a00","#ff7d00","#ffcc00","#e8ff00","#bfff00","#44ff00","#00e800","#00c000","#089010","#0a7025","#005f42","#7d0000","#9a0000","#b80000","#d80000","#ff0a00","#ff3a00","#ff6600","#ff9000","#ffbb00","#f8f800","#d8ff00","#a8ff00","#60ff00","#00f000","#00d000","#00b000","#009010","#087a28","#005a38"]}},"stroke":{"field":"id","type":"nominal","legend":null,"scale":{"domain":["a14","a13","a12","a11","a10","ax","a9","a8","a7","a6","a5","a4","a3","a2","a1","a0","b18","b17","b16","b15","b14","b13","b12","b11","b10","b9","b8","b7","b6","b5","b4","b3","b2","b1","b0"],"range":["#7f0000","#990000","#b80000","#e00000","#ff2a00","#ff2a00","#ff7d00","#ffcc00","#e8ff00","#bfff00","#44ff00","#00e800","#00c000","#089010","#0a7025","#005f42","#7d0000","#9a0000","#b80000","#d80000","#ff0a00","#ff3a00","#ff6600","#ff9000","#ffbb00","#f8f800","#d8ff00","#a8ff00","#60ff00","#00f000","#00d000","#00b000","#009010","#087a28","#005a38"]}}}},
{"data":{"name":"meshStraight"},"mark":{"type":"rule","stroke":"#161616","strokeWidth":1.6},"encoding":{"x2":{"field":"x2"},"y2":{"field":"y2"}}},
{"data":{"name":"mesh"},"transform":[{"window":[{"op":"row_number","as":"o"}]}],"mark":{"type":"line","interpolate":"natural","stroke":"#161616","strokeWidth":1.6},"encoding":{"order":{"field":"o","type":"quantitative"},"detail":{"field":"id","type":"nominal"}}},
{"data":{"name":"axes"},"mark":{"type":"rule","stroke":"#3a3a3a","strokeWidth":2.2},"encoding":{"x2":{"field":"x2"},"y2":{"field":"y2"}}},
{"data":{"values":[{"key":"a10","x":353,"y":1688},{"key":"a95","x":578,"y":1688},{"key":"a85","x":820,"y":1688},{"key":"a75","x":1063,"y":1688},{"key":"a65","x":1304,"y":1688},{"key":"b10","x":2037,"y":1715},{"key":"b975","x":2263,"y":1715},{"key":"b875","x":2540,"y":1715},{"key":"b775","x":2818,"y":1715},{"key":"b675","x":2005,"y":1791},{"key":"b575","x":2280,"y":1791},{"key":"b475","x":2557,"y":1791},{"key":"b375","x":2835,"y":1791}]},"mark":{"type":"square","size":3481,"opacity":1},"encoding":{"fill":{"field":"key","type":"nominal","legend":null,"scale":{"domain":["a10","a95","a85","a75","a65","b10","b975","b875","b775","b675","b575","b475","b375"],"range":["#800000","#b80000","#ffcc00","#00e800","#006040","#7d0000","#a00000","#ee0000","#ff9900","#ddff00","#00ff10","#009a10","#055f40"]}}}},
{"data":{"values":[{"t":"> 10","x":406,"y":1710},{"t":"< 9.5","x":633,"y":1710},{"t":"< 8.5","x":874,"y":1710},{"t":"< 7.5","x":1116,"y":1710},{"t":"< 6.5","x":1359,"y":1710},{"t":"> 10","x":2090,"y":1736},{"t":"< 9.75","x":2317,"y":1736},{"t":"< 8.75","x":2594,"y":1736},{"t":"< 7.75","x":2872,"y":1736},{"t":"< 6.75","x":2059,"y":1812},{"t":"< 5.75","x":2335,"y":1812},{"t":"< 4.75","x":2610,"y":1812},{"t":"< 3.75","x":2889,"y":1812}]},"mark":{"type":"text","font":"Liberation Serif","fontSize":63,"align":"left","baseline":"alphabetic","color":"#111111"},"encoding":{"text":{"field":"t"}}},
{"data":{"values":[{"t":"(a)","x":55,"y":110},{"t":"(b)","x":1661,"y":110}]},"mark":{"type":"text","font":"Liberation Serif","fontSize":84,"align":"left","baseline":"alphabetic","color":"#000000"},"encoding":{"text":{"field":"t"}}},
{"data":{"values":[{"t":"11","x":210,"y":449},{"t":"10","x":213,"y":545},{"t":"9","x":233,"y":634},{"t":"8","x":239,"y":723},{"t":"7","x":241,"y":812},{"t":"6","x":248,"y":899},{"t":"5","x":252,"y":990},{"t":"4","x":257,"y":1073},{"t":"11","x":1819,"y":455},{"t":"10","x":1824,"y":551},{"t":"9","x":1844,"y":637},{"t":"8","x":1850,"y":729},{"t":"7","x":1853,"y":815},{"t":"6","x":1860,"y":905},{"t":"5","x":1863,"y":992},{"t":"4","x":1868,"y":1079}]},"mark":{"type":"text","font":"Liberation Serif","fontSize":74,"align":"center","baseline":"middle","angle":350,"color":"#111111"},"encoding":{"text":{"field":"t"}}},
{"data":{"values":[{"t":"KC, J/cm²","x":108,"y":865},{"t":"KC, J/cm²","x":1718,"y":872}]},"mark":{"type":"text","font":"Liberation Serif","fontSize":74,"align":"center","baseline":"middle","angle":85,"color":"#111111"},"encoding":{"text":{"field":"t"}}},
{"data":{"values":[{"t":"4.5","x":240,"y":1174},{"t":"4.0","x":311,"y":1225},{"t":"3.5","x":375,"y":1281},{"t":"3.0","x":449,"y":1335},{"t":"2.5","x":523,"y":1391},{"t":"2.0","x":599,"y":1451},{"t":"1.5","x":676,"y":1504},{"t":"1.0","x":755,"y":1567},{"t":"6.5","x":1847,"y":1177},{"t":"6.0","x":1898,"y":1216},{"t":"5.5","x":1944,"y":1251},{"t":"5.0","x":1998,"y":1290},{"t":"4.5","x":2049,"y":1326},{"t":"4.0","x":2103,"y":1365},{"t":"3.5","x":2151,"y":1406},{"t":"3.0","x":2202,"y":1445},{"t":"2.5","x":2256,"y":1487},{"t":"2.0","x":2309,"y":1528},{"t":"1.5","x":2365,"y":1576}]},"mark":{"type":"text","font":"Liberation Serif","fontSize":68,"align":"center","baseline":"middle","angle":338,"color":"#111111"},"encoding":{"text":{"field":"t"}}},
{"data":{"values":[{"t":"480","x":938,"y":1555},{"t":"490","x":1035,"y":1504},{"t":"500","x":1124,"y":1454},{"t":"510","x":1216,"y":1406},{"t":"520","x":1308,"y":1359},{"t":"530","x":1397,"y":1314},{"t":"540","x":1486,"y":1266},{"t":"170","x":2530,"y":1567},{"t":"190","x":2647,"y":1507},{"t":"210","x":2760,"y":1448},{"t":"230","x":2872,"y":1388},{"t":"250","x":2984,"y":1331},{"t":"270","x":3094,"y":1275}]},"mark":{"type":"text","font":"Liberation Serif","fontSize":70,"align":"center","baseline":"middle","angle":30,"color":"#111111"},"encoding":{"text":{"field":"t"}}},
{"data":{"values":[{"t":"τ","x":319,"y":1409},{"t":"h","x":393,"y":1454},{"t":"τ","x":1939,"y":1412},{"t":"h","x":2003,"y":1454}]},"mark":{"type":"text","font":"Liberation Serif","fontStyle":"italic","fontSize":78,"align":"center","baseline":"middle","angle":33,"color":"#111111"},"encoding":{"text":{"field":"t"}}},
{"data":{"values":[{"t":"p,","x":327,"y":1430},{"t":"s,","x":1936,"y":1436}]},"mark":{"type":"text","font":"Liberation Serif","fontStyle":"italic","fontSize":42,"align":"center","baseline":"middle","angle":33,"color":"#111111"},"encoding":{"text":{"field":"t"}}},
{"data":{"values":[{"t":"t","x":1277,"y":1528},{"t":"°","x":1338,"y":1482},{"t":"t","x":2897,"y":1528},{"t":"°","x":2954,"y":1488}]},"mark":{"type":"text","font":"Liberation Serif","fontSize":70,"align":"center","baseline":"middle","angle":330,"color":"#111111"},"encoding":{"text":{"field":"t"}}},
{"data":{"values":[{"t":"p,","x":1318,"y":1528},{"t":"s,","x":2938,"y":1534}]},"mark":{"type":"text","font":"Liberation Serif","fontSize":44,"align":"center","baseline":"middle","angle":330,"color":"#111111"},"encoding":{"text":{"field":"t"}}},
{"data":{"values":[{"t":"C","x":1392,"y":1457},{"t":"C","x":3007,"y":1463}]},"mark":{"type":"text","font":"Liberation Serif","fontSize":78,"align":"center","baseline":"middle","angle":330,"color":"#111111"},"encoding":{"text":{"field":"t"}}}
]}
